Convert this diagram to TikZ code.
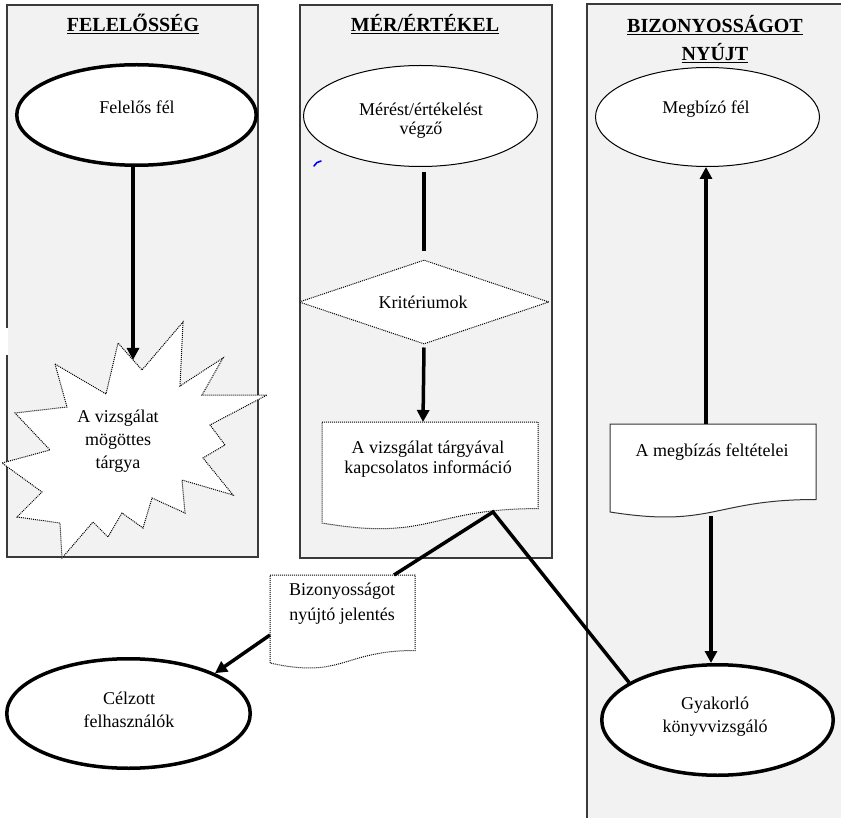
\documentclass[tikz,border=0pt]{standalone}
\usepackage{fontspec}
\setmainfont{Liberation Serif}
\usetikzlibrary{arrows.meta,shapes.geometric}
\definecolor{panelgray}{HTML}{F2F2F2}
\definecolor{panelline}{HTML}{3A3A3A}
\begin{document}
\begin{tikzpicture}[x=1pt,y=-1pt,
  panel/.style={fill=panelgray,draw=panelline,line width=1.3pt},
  header/.style={font=\fontsize{20}{28}\selectfont\bfseries,align=center,inner sep=0pt,anchor=base},
  lbl/.style={font=\fontsize{18}{21}\selectfont,align=center,inner sep=0pt},
  thickell/.style={ellipse,draw,line width=3.5pt,fill=white,inner sep=0pt},
  thinell/.style={ellipse,draw,line width=1pt,fill=white,inner sep=0pt},
  dotline/.style={densely dotted,line width=1pt},
  conn/.style={line width=3.5pt},
  arr/.style={conn,-{Triangle[length=12pt,width=12pt]}},
]
\useasboundingbox (0,0) rectangle (841,818);
\fill[white] (0,0) rectangle (841,818);

% panels
\path[panel] (7,5) rectangle (258,557);
\path[panel] (300,5) rectangle (552,558);
\path[panel] (587,4) rectangle (860,840);
\fill[white] (0,328) rectangle (8,355);

% headers
\node[header] (h1) at (133,32) {\underline{FELELŐSSÉG}};
\node[header] (h2) at (425,32) {\underline{MÉR/ÉRTÉKEL}};
\node[header] (h3a) at (715,33) {\underline{BIZONYOSSÁGOT}};
\node[header] (h3b) at (715,61) {\underline{NYÚJT}};

% ellipses
\node[thickell,minimum width=239.5pt,minimum height=100.5pt] (felelos) at (136.5,115) {};
\node[lbl] (felelosT) at (137,107) {Felelős fél};

\node[thinell,minimum width=234pt,minimum height=101pt] (meres) at (420.5,116) {};
\node[lbl,font=\fontsize{18}{19}\selectfont] (meresT) at (421,121) {Mérést/értékelést\\végző};

\node[thinell,minimum width=224pt,minimum height=99pt] (megbizo) at (707.5,117) {};
\node[lbl] (megbizoT) at (706,109) {Megbízó fél};

\node[thickell,minimum width=231.5pt,minimum height=110.5pt] (gyak) at (717.5,720) {};
\node[lbl,font=\fontsize{18}{23}\selectfont] (gyakT) at (715,717) {Gyakorló\\könyvvizsgáló};

\node[thickell,minimum width=243.5pt,minimum height=109.5pt] (celzott) at (128.5,713.5) {};
\node[lbl,font=\fontsize{18}{23}\selectfont] (celzottT) at (129,710) {Célzott\\felhasználók};

% blue mark
\draw[blue,line width=1.6pt,line cap=round] (314,166) to[bend left=25] (321,161);

% starburst
\draw[dotline,fill=white] (55,364) -- (106,394) -- (118,343) -- (142,370) -- (183,322) -- (180,386)
  -- (223,358) -- (202,395) -- (267,395) -- (210,425) -- (225,445) -- (203,458) -- (233,495)
  -- (182,480) -- (185,513) -- (152,498) -- (143,528) -- (122,513) -- (108,537) -- (93,522)
  -- (62,558) -- (60,523) -- (17,517) -- (42,492) -- (2,463) -- (50,450) -- (15,413) -- (67,407) -- cycle;
\coordinate (starTip) at (133,360);
\node[lbl,font=\fontsize{18}{23}\selectfont] (starT) at (118,441) {A vizsgálat\\mögöttes\\tárgya};

% diamond
\node[diamond,draw,dotline,fill=white,minimum width=250pt,minimum height=84pt,inner sep=0pt] (krit) at (424,302) {};
\node[lbl] (kritT) at (423,302) {Kritériumok};

% document 1 (dotted)
\draw[dotline,fill=white] (322,422) -- (538,422) -- (538,508.6) .. controls (430,508.6) and (430,541.6) .. (322,523) -- cycle;
\node[lbl,font=\fontsize{18}{20}\selectfont] (doc1T) at (428,459) {A vizsgálat tárgyával\\kapcsolatos információ};
\coordinate (d1top) at (423,422);
\coordinate (d1apex) at (493,512);

% document 2 (solid)
\draw[line width=1pt,draw=black!80,fill=white] (610,424) -- (816,424) -- (816,499.5) .. controls (713,499.5) and (713,528.3) .. (610,512) -- cycle;
\node[lbl] (doc2T) at (712,452) {A megbízás feltételei};
\coordinate (d2top) at (706,424);
\coordinate (d2bot) at (711,516);

% document 3 (dotted)
\draw[dotline,fill=white] (270,575) -- (415,575) -- (415,650.5) .. controls (342.5,650.5) and (342.5,679.3) .. (270,663) -- cycle;
\node[lbl,font=\fontsize{18}{25}\selectfont] (doc3T) at (342,604) {Bizonyosságot\\nyújtó jelentés};
\coordinate (d3tr) at (394,575);
\coordinate (d3left) at (270,635);

% connectors
\draw[arr] (starTip |- felelos.south) -- (starTip);
\draw[conn] ([yshift=-5pt]meres.south -| krit.north) -- ([yshift=8pt]krit.north);
\draw[arr] ([yshift=-3pt]krit.south) -- (d1top);
\draw[arr] (d2top) -- (d2top |- megbizo.south);
\draw[arr] (d2bot) -- (d2bot |- gyak.north);
\draw[conn] (d3tr) -- (d1apex) -- (gyak.157);
\draw[arr] (d3left) -- (celzott.25);
\end{tikzpicture}
\end{document}
